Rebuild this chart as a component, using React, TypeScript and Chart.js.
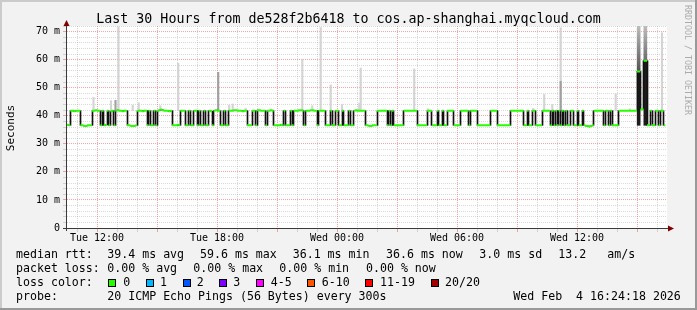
import React, { useEffect, useRef } from "react";
import { Chart, registerables } from "chart.js";

Chart.register(...registerables);

// ---------------- data ----------------
const startHour = 10.5; // Tue 10:30 (hours counted from Tue 00:00)
const endHour = 40.5; // Wed 16:30
const stepMinutes = 5;

const xTickHours = [12, 18, 24, 30, 36];
const xTickLabels = ["Tue 12:00", "Tue 18:00", "Wed 00:00", "Wed 06:00", "Wed 12:00"];
const yTickValues = [0, 10, 20, 30, 40, 50, 60, 70];
const yTickLabels = ["0", "10 m", "20 m", "30 m", "40 m", "50 m", "60 m", "70 m"];

// median rtt (ms), one value every 5 minutes
const medianRtt = [
  36.8, 36.6, 41.8, 41.8, 41.6, 41.8, 41.8, 41.8, 36.6, 36.6, 36.4, 36.4, 36.6, 36.6, 36.6, 41.8, 41.8, 42.0, 41.8, 41.8,
  36.6, 41.8, 36.6, 36.8, 41.8, 36.6, 41.6, 41.8, 36.6, 41.8, 42.0, 41.8, 41.8, 41.6, 41.8, 41.8, 36.6, 36.6, 36.4, 36.4, 36.4, 36.6,
  41.8, 41.8, 41.8, 41.6, 41.8, 41.8, 36.6, 41.8, 36.6, 36.6, 41.8, 36.6, 41.8, 42.0, 42.2, 42.0, 41.8, 41.8, 41.8, 41.6, 41.8,
  36.6, 36.6, 36.6, 36.8, 36.6, 41.8, 41.8, 41.8, 36.6, 36.6, 41.8, 36.6, 36.6, 41.8, 41.8, 36.6, 41.8, 36.6, 36.6, 41.8,
  36.6, 36.6, 41.8, 41.6, 36.6, 41.8, 42.0, 41.8, 41.8, 36.6, 36.6, 41.8, 36.6, 36.6, 41.8,
  41.8, 41.8, 42.0, 42.0, 41.8, 41.8, 41.8, 41.6, 41.8, 41.8, 36.6, 36.6, 36.6, 41.8, 41.8, 36.6,
  42.0, 42.0, 41.8, 41.8, 41.8, 36.6, 41.8, 41.8, 42.0, 41.8, 36.6, 36.6, 36.6, 36.6, 36.8, 36.6, 41.8, 36.6, 36.6, 36.6, 41.8, 36.6,
  41.8, 41.8, 41.8, 42.0, 42.0, 41.8, 36.6, 41.8, 41.8, 41.8, 42.0, 42.0, 41.8, 41.8, 36.6, 41.8, 41.8, 41.8, 41.8,
  36.6, 36.6, 36.6, 41.8, 36.6, 36.6, 41.8, 41.8, 36.6, 36.6, 41.8, 36.6, 36.6, 36.6, 41.8, 36.6, 36.6,
  41.8, 42.0, 41.8, 41.8, 41.8, 41.8, 41.8, 36.6, 36.6, 36.4, 36.4, 36.6, 36.6, 36.6, 41.8, 41.8, 41.8, 41.8, 41.8, 41.8,
  36.6, 41.8, 36.6, 41.8, 36.6, 36.6, 36.6, 36.6, 36.6, 36.6, 41.8, 41.8, 41.8, 41.8, 41.8, 41.8, 41.8, 41.8, 36.6, 36.6, 36.6, 36.6, 36.6, 36.6,
  41.8, 41.8, 41.8, 36.6, 36.6, 36.6, 41.8, 36.6, 36.6, 41.8, 36.6, 36.6, 41.8, 41.8, 41.8, 41.8, 36.6, 36.6, 36.6, 36.6,
  41.8, 41.8, 41.8, 41.8, 41.8, 36.6, 41.8, 41.8, 41.8, 41.8, 36.6, 36.6, 36.6, 36.6, 36.6, 36.6, 36.6, 36.6, 41.8, 41.8, 41.8, 41.8,
  36.6, 36.6, 36.6, 36.6, 36.6, 36.6, 36.6, 36.6, 41.8, 41.8, 41.8, 41.8, 41.8, 41.8, 41.8, 41.8, 36.6, 36.6, 41.8, 36.6, 36.6, 41.8, 41.8, 36.6,
  36.6, 36.6, 36.6, 41.8, 41.8, 41.8, 41.8, 41.8, 36.6, 41.8, 36.6, 41.8, 36.6, 41.8, 36.6, 41.8, 36.6, 41.8,
  36.6, 36.6, 41.8, 41.8, 36.6, 36.6, 41.8, 36.6, 36.6, 41.8, 36.6, 36.4, 36.4, 36.1, 36.4, 36.6, 41.8, 41.8, 41.8, 41.8, 41.8, 41.8,
  36.6, 41.8, 41.8, 36.6, 41.8, 36.6, 36.6, 36.6, 36.6, 41.8, 41.8, 41.8, 41.8, 41.8, 41.8, 41.8, 41.8, 41.8, 41.8, 41.8, 55.8, 55.8, 42.2, 42.2, 59.6, 59.6,
  36.6, 36.6, 41.8, 36.6, 36.6, 41.8, 41.8, 36.6, 41.8, 41.8, 36.6,
];

// light grey smoke (upper ping spread), hour and top value (ms)
const smokeLightHours = [11.825, 12.7, 13.075, 13.785, 14.085, 15.165, 16.06, 18.61, 18.785, 19.435, 22.265, 22.765, 23.185, 23.685, 24.25, 25.115, 25.185, 27.86, 28.535, 33.81, 34.36, 34.765, 35.185, 37.935, 38.635, 40.25];
const smokeLightTops = [46.6, 45.4, 71.7, 43.8, 44.6, 43.6, 58.7, 43.8, 44.2, 42.7, 60.2, 43.6, 71.5, 51.0, 44.0, 44.5, 57.0, 56.7, 42.5, 42.6, 47.6, 44.0, 71.4, 47.8, 42.5, 69.6];
// denser (darker) smoke
const smokeMidHours = [12.925, 18.06, 35.185];
const smokeMidTops = [45.5, 55.5, 52.3];
// the two loss-free latency spikes near the end
const spikeHours = [39.083, 39.417];
const spikeMedians = [55.8, 59.6];
const spikeSmokeTops = [72, 72];
const spikeFloor = [36.6, 36.6];
const smokeBase = 41.8;

const rttStats = ["39.4 ms avg", "59.6 ms max", "36.1 ms min", "36.6 ms now", "3.0 ms sd", "13.2", "am/s"];
const lossStats = ["0.00 % avg", "0.00 % max", "0.00 % min", "0.00 % now"];
const lossLabels = ["0", "1", "2", "3", "4-5", "6-10", "11-19", "20/20"];
const lossColors = ["#26ff00", "#00b8ff", "#0059ff", "#7e00ff", "#ff00ff", "#ff5500", "#ff0000", "#a10000"];
const probeText = "20 ICMP Echo Pings (56 Bytes) every 300s";
const dateText = "Wed Feb  4 16:24:18 2026";
const titleText = "Last 30 Hours from de528f2b6418 to cos.ap-shanghai.myqcloud.com";

// ---------------- build library tables ----------------
const stepH = stepMinutes / 60;
const tAt = (i: number) => startHour + i * stepH;

const greenPts: any[] = [];
const blackBars: any[] = [];
{
  let s = 0;
  for (let i = 1; i <= medianRtt.length; i++) {
    if (i === medianRtt.length || medianRtt[i] !== medianRtt[s]) {
      greenPts.push({ x: tAt(s), y: medianRtt[s] }, { x: tAt(i), y: medianRtt[s] }, { x: tAt(i), y: null });
      if (i < medianRtt.length) {
        const a = medianRtt[i - 1];
        const b = medianRtt[i];
        blackBars.push({ x: tAt(i), y: [Math.min(a, b), Math.max(a, b)] });
      }
      s = i;
    }
  }
}
const hourTicks: number[] = [];
for (let h = Math.ceil(startHour); h <= Math.floor(endHour); h++) hourTicks.push(h);
const yGridTicks: number[] = [];
for (let v = 0; v <= 72; v += 2) yGridTicks.push(v);

const RED = "rgba(232, 60, 60, 0.45)";
const GREY = "rgba(130, 130, 130, 0.3)";
const MONO = "'DejaVu Sans Mono', monospace";

const framePlugin = {
  id: "rrdframe",
  beforeDraw(chart: any) {
    const { ctx, chartArea: a, width, height } = chart;
    ctx.save();
    ctx.fillStyle = "#f2f2f2";
    ctx.fillRect(0, 0, width, height);
    ctx.fillStyle = "#cbcbcb";
    ctx.fillRect(0, 0, width, 2);
    ctx.fillRect(0, 0, 2, height);
    ctx.fillStyle = "#999999";
    ctx.fillRect(0, height - 2, width, 2);
    ctx.fillRect(width - 2, 0, 2, height);
    ctx.fillStyle = "#ffffff";
    ctx.fillRect(a.left, a.top, a.right - a.left, a.bottom - a.top);
    ctx.restore();
  },
  beforeDatasetDraw(chart: any, args: any) {
    const ds = chart.data.datasets[args.index];
    if (ds.snapX) {
      args.meta.data.forEach((el: any) => {
        el.x = Math.floor(el.x) + 0.5;
      });
    }
  },
  afterDraw(chart: any) {
    const { ctx, chartArea: a } = chart;
    ctx.save();
    ctx.strokeStyle = "#3a3a3a";
    ctx.lineWidth = 1;
    ctx.beginPath();
    ctx.moveTo(a.left - 0.5, a.bottom + 3);
    ctx.lineTo(a.left - 0.5, a.top - 5);
    ctx.moveTo(a.left - 4, a.bottom + 0.5);
    ctx.lineTo(a.right + 4, a.bottom + 0.5);
    ctx.stroke();
    ctx.fillStyle = "#7f0000";
    ctx.beginPath();
    ctx.moveTo(a.left - 0.5, a.top - 6);
    ctx.lineTo(a.left - 3.5, a.top);
    ctx.lineTo(a.left + 2.5, a.top);
    ctx.closePath();
    ctx.fill();
    ctx.beginPath();
    ctx.moveTo(a.right + 7, a.bottom + 0.5);
    ctx.lineTo(a.right + 1, a.bottom - 2.5);
    ctx.lineTo(a.right + 1, a.bottom + 3.5);
    ctx.closePath();
    ctx.fill();
    ctx.restore();
  },
};

const spikeGradient = (c: any) => {
  const chart = c.chart;
  if (!chart.chartArea) return "#777";
  const y = chart.scales.y;
  const g = chart.ctx.createLinearGradient(0, y.getPixelForValue(72), 0, y.getPixelForValue(52));
  g.addColorStop(0, "#bdbdbd");
  g.addColorStop(1, "#3a3a3a");
  return g;
};

const abs = (left: number, top: number, extra: any = {}) => ({
  position: "absolute" as const,
  left,
  top,
  whiteSpace: "pre" as const,
  ...extra,
});

const legendFont = { fontFamily: MONO, fontSize: "11.6px", lineHeight: "14px", color: "#000" };
const row1X = [107.3, 200, 292.7, 386, 479.3, 558.3, 607.3];
const row2X = [107.3, 193.3, 279.3, 366];
const boxX = [108, 145.5, 182.5, 219.3, 256, 307.3, 365, 431];
const boxLabelX = [123.3, 160, 196.7, 233.3, 270.7, 321.7, 380, 445];
const rowTop = [247.3, 261, 274.7, 288.6];

export default function App() {
  const ref = useRef<HTMLCanvasElement>(null);

  useEffect(() => {
    if (!ref.current) return;
    const chart = new Chart(ref.current, {
      type: "line",
      data: {
        datasets: [
          {
            type: "line",
            data: greenPts,
            borderColor: "#26ff00",
            borderWidth: 2,
            pointRadius: 0,
            spanGaps: false,
            order: 1,
          } as any,
          {
            type: "bar",
            data: blackBars,
            backgroundColor: "#111111",
            barThickness: 1,
            grouped: false,
            snapX: true,
            order: 2,
          } as any,
          {
            type: "bar",
            data: spikeHours.map((h, i) => ({ x: h, y: [spikeFloor[i], spikeMedians[i]] })),
            backgroundColor: "#1c1c1c",
            barThickness: 3,
            grouped: false,
            order: 3,
          } as any,
          {
            type: "bar",
            data: spikeHours.map((h, i) => ({ x: h, y: [spikeMedians[i], spikeSmokeTops[i]] })),
            backgroundColor: spikeGradient,
            barThickness: 3,
            grouped: false,
            order: 4,
          } as any,
          {
            type: "bar",
            data: smokeMidHours.map((h, i) => ({ x: h, y: [smokeBase, smokeMidTops[i]] })),
            backgroundColor: "#a0a0a0",
            barThickness: 1.5,
            grouped: false,
            order: 5,
          } as any,
          {
            type: "bar",
            data: smokeLightHours.map((h, i) => ({ x: h, y: [smokeBase, smokeLightTops[i]] })),
            backgroundColor: "#d4d4d4",
            barThickness: 1.5,
            grouped: false,
            order: 6,
          } as any,
        ],
      },
      options: {
        responsive: false,
        animation: false,
        events: [],
        layout: { padding: { left: 0, top: 26, right: 30, bottom: 0 } },
        plugins: { legend: { display: false }, tooltip: { enabled: false }, title: { display: false } },
        scales: {
          x: {
            type: "linear",
            min: startHour,
            max: endHour,
            offset: false,
            afterFit: (s: any) => {
              s.height = 82;
            },
            afterBuildTicks: (s: any) => {
              s.ticks = hourTicks.map((v) => ({ value: v }));
            },
            ticks: {
              autoSkip: false,
              maxRotation: 0,
              minRotation: 0,
              padding: 0,
              color: "#000",
              font: { family: MONO, size: 10 },
              callback: (v: any) => {
                const k = xTickHours.indexOf(Number(v));
                return k >= 0 ? xTickLabels[k] : "";
              },
            },
            grid: {
              offset: false,
              lineWidth: 1,
              tickLength: 4,
              color: (c: any) => (c.tick && c.tick.value % 3 === 0 ? RED : GREY),
              tickColor: (c: any) => (c.tick && c.tick.value % 3 === 0 ? RED : GREY),
            },
            border: { display: false, dash: [1, 1] },
          } as any,
          y: {
            type: "linear",
            min: 0,
            max: 72,
            afterFit: (s: any) => {
              s.width = 67;
            },
            afterBuildTicks: (s: any) => {
              s.ticks = yGridTicks.map((v) => ({ value: v }));
            },
            ticks: {
              autoSkip: false,
              padding: 3,
              color: "#000",
              font: { family: MONO, size: 10 },
              callback: (v: any) => {
                const k = yTickValues.indexOf(Number(v));
                return k >= 0 ? yTickLabels[k] : "";
              },
            },
            grid: {
              lineWidth: 1,
              tickLength: 4,
              color: (c: any) => (c.tick && c.tick.value % 10 === 0 ? RED : GREY),
              tickColor: (c: any) => (c.tick && c.tick.value % 10 === 0 ? RED : GREY),
            },
            border: { display: false, dash: [1, 1] },
          } as any,
        },
      },
      plugins: [framePlugin as any],
    });
    return () => chart.destroy();
  }, []);

  return (
    <div style={{ position: "absolute", left: 0, top: 0, width: 697, height: 310, overflow: "hidden" }}>
      <canvas ref={ref} width={697} height={310} style={{ display: "block", width: 697, height: 310 }} />
      <div
        style={abs(0, 11.4, {
          width: 697,
          textAlign: "center",
          fontFamily: MONO,
          fontSize: "13.3px",
          lineHeight: "16px",
          color: "#000",
        })}
      >
        {titleText}
      </div>
      <div
        style={abs(11.2 - 30, 128.3 - 7, {
          width: 60,
          height: 14,
          textAlign: "center",
          fontFamily: MONO,
          fontSize: "11px",
          lineHeight: "14px",
          color: "#000",
          transform: "rotate(-90deg)",
        })}
      >
        Seconds
      </div>
      <div
        style={abs(683, 5, {
          writingMode: "vertical-rl",
          fontFamily: MONO,
          fontSize: "8.3px",
          lineHeight: "10px",
          color: "#ababab",
        })}
      >
        RRDTOOL / TOBI OETIKER
      </div>

      <div style={abs(16, rowTop[0], legendFont)}>median rtt:</div>
      {rttStats.map((t, i) => (
        <div key={"r" + i} style={abs(row1X[i], rowTop[0], legendFont)}>
          {t}
        </div>
      ))}
      <div style={abs(16, rowTop[1], legendFont)}>packet loss:</div>
      {lossStats.map((t, i) => (
        <div key={"l" + i} style={abs(row2X[i], rowTop[1], legendFont)}>
          {t}
        </div>
      ))}
      <div style={abs(16, rowTop[2], legendFont)}>loss color:</div>
      {lossLabels.map((t, i) => (
        <React.Fragment key={"c" + i}>
          <div
            style={abs(boxX[i], 278.5, {
              width: 6,
              height: 6,
              border: "1px solid #000",
              background: lossColors[i],
            })}
          />
          <div style={abs(boxLabelX[i], rowTop[2], legendFont)}>{t}</div>
        </React.Fragment>
      ))}
      <div style={abs(16, rowTop[3], legendFont)}>probe:</div>
      <div style={abs(107.3, rowTop[3], legendFont)}>{probeText}</div>
      <div style={abs(513.3, rowTop[3], legendFont)}>{dateText}</div>
    </div>
  );
}
